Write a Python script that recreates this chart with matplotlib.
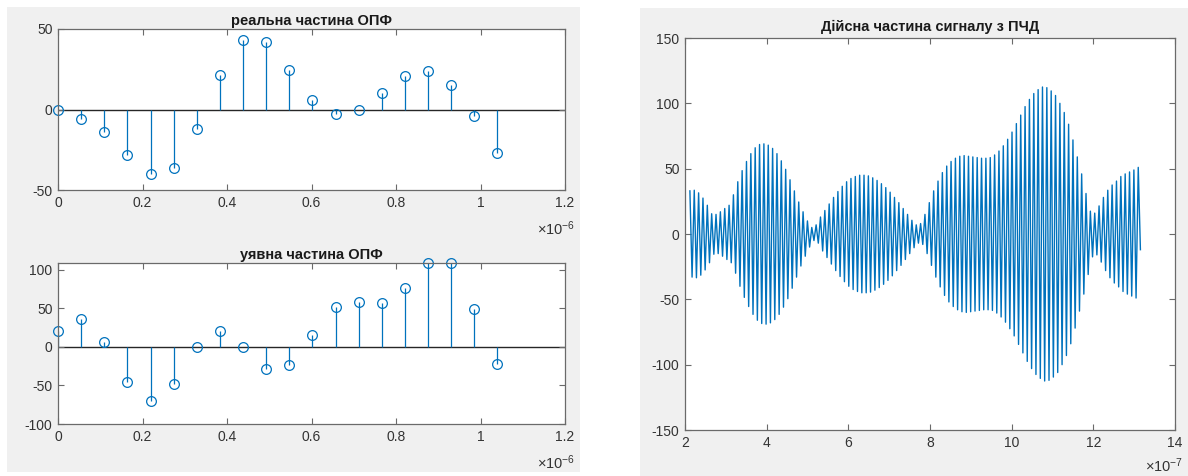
import numpy as np
import matplotlib
matplotlib.use("Agg")
import matplotlib.pyplot as plt
from matplotlib.patches import Rectangle
from matplotlib.ticker import FuncFormatter, MultipleLocator

plt.rcParams['font.family'] = ['Liberation Sans', 'DejaVu Sans']
plt.rcParams['mathtext.fontset'] = 'custom'
plt.rcParams['mathtext.rm'] = 'Liberation Sans'
plt.rcParams['mathtext.it'] = 'Liberation Sans:italic'
plt.rcParams['axes.unicode_minus'] = False

# ---- DFT (ОПФ) samples ----
bin_step = 5.4737e-8          # spacing of the frequency/time bins, s
re_part = [0, -6, -14, -28, -40, -36.5, -12, 21.5, 43, 42,
           24.5, 6, -3, 0, 10.5, 20.5, 24, 15.5, -4, -27]
im_part = [20.5, 36.5, 7, -45, -70.5, -47.5, -0.5, 21, 0, -29,
           -24, 16, 52, 59, 57, 77, 109, 108.5, 49.5, -21.5]

# ---- real part of the reconstructed signal ----
sig_t0 = 2.12e-7              # time of the first sample, s
sig_half_period = 5.33e-9     # carrier half period, s
# amplitude of each carrier period (positive peak, mirrored negative trough)
peak_amp = [33, 33.5, 31.5, 27.5, 22, 15.5, 15, 17, 19.5, 22,
            30, 40, 48.5, 55.5, 61.5, 66, 68.5, 69, 68, 65.5,
            61.5, 56, 49.5, 41.5, 33, 24.5, 17, 10, 5, 7,
            13, 18, 23, 28, 32.5, 36.5, 40, 42.5, 44, 45,
            45, 44.5, 43, 41, 38.5, 35.5, 32, 28, 24, 19.5,
            15, 10.5, 7, 8, 15, 24, 33, 40.5, 47, 52,
            55.5, 58, 59.5, 60, 59.5, 59, 58.5, 58, 58, 58.5,
            60.5, 63.5, 67.5, 72.5, 78, 84.5, 91, 97.5, 103, 107.5,
            110.5, 112.5, 112, 109.5, 106, 100, 93, 84, 72, 59,
            46, 31, 17.5, 16, 21.5, 28, 33.5, 37.5, 40.5, 44,
            46, 47.5, 49, 51]
sig_tail = -12.0              # last sample of the record

# ---- tick labels ----
spec_xticks = [0, 0.2, 0.4, 0.6, 0.8, 1.0, 1.2]      # ×1e-6 s
sig_xticks = [2, 4, 6, 8, 10, 12, 14]                 # ×1e-7 s

titles = ['реальна частина ОПФ', 'уявна частина ОПФ', 'Дійсна частина сигналу з ПЧД']

BLUE = '#0072BD'
AX_COL = '#6a6a6a'
TXT_COL = '#333333'

W, H = 1188, 476
fig = plt.figure(figsize=(W / 100, H / 100), dpi=100, facecolor='white')


def px_rect(x0, y0, x1, y1):
    """figure-fraction [left, bottom, width, height] from pixel box (y down)"""
    return [x0 / W, 1 - y1 / H, (x1 - x0) / W, (y1 - y0) / H]


# grey window backgrounds
for x0, y0, x1, y1 in [(7, 7, 580, 472), (640, 8, 1188, 476)]:
    l, b, w, h = px_rect(x0, y0, x1, y1)
    fig.patches.append(Rectangle((l, b), w, h, transform=fig.transFigure,
                                 facecolor='#f0f0f0', edgecolor='none', zorder=-10))


def style_axes(ax):
    for s in ax.spines.values():
        s.set_color(AX_COL)
        s.set_linewidth(0.9)
    ax.tick_params(direction='in', top=True, right=True, length=4, width=0.8,
                   color=AX_COL, labelcolor=TXT_COL, labelsize=10, pad=4)
    ax.set_facecolor('white')


def sci_label(ax, exp, dx, dy):
    ax.annotate(r'$\times10^{%d}$' % exp, xy=(1, 0), xycoords='axes fraction',
                xytext=(dx, dy), textcoords='offset points', ha='right', va='center',
                fontsize=10.5, color=TXT_COL)


spec_x = np.arange(len(re_part)) * bin_step

ax1 = fig.add_axes(px_rect(58, 29, 565, 190))
ax2 = fig.add_axes(px_rect(58, 263, 565, 424))

for ax, vals, title, ylim, ystep in [(ax1, re_part, titles[0], (-50, 50), 50),
                                     (ax2, im_part, titles[1], (-100, 109), 50)]:
    style_axes(ax)
    ax.axhline(0, color='#262626', lw=1.0, zorder=1)
    ml, sl, bl = ax.stem(spec_x, vals)
    bl.set_visible(False)
    sl.set_color(BLUE)
    sl.set_linewidth(0.9)
    ml.set_color(BLUE)
    ml.set_markerfacecolor('none')
    ml.set_markersize(7)
    ml.set_markeredgewidth(0.9)
    ml.set_clip_on(False)
    ax.set_xlim(0, 1.2e-6)
    ax.set_ylim(*ylim)
    ax.set_xticks([v * 1e-6 for v in spec_xticks])
    ax.xaxis.set_major_formatter(FuncFormatter(lambda v, p: '%g' % round(v / 1e-6, 6)))
    ax.yaxis.set_major_locator(MultipleLocator(ystep))
    ax.set_title(title, fontsize=10.5, fontweight='bold', color='#1a1a1a', pad=3)
    sci_label(ax, -6, 7, -28)

# reconstructed signal: alternating peaks and troughs
sig_y = []
for k, a in enumerate(peak_amp):
    sig_y.append(a)
    if k < len(peak_amp) - 1:
        sig_y.append(-a)
sig_y.append(sig_tail)
sig_t = sig_t0 + np.arange(len(sig_y)) * sig_half_period

ax3 = fig.add_axes(px_rect(685, 38, 1175, 430))
style_axes(ax3)
ax3.plot(sig_t, sig_y, color=BLUE, lw=1.0)
ax3.set_xlim(2e-7, 14e-7)
ax3.set_ylim(-150, 150)
ax3.set_xticks([v * 1e-7 for v in sig_xticks])
ax3.xaxis.set_major_formatter(FuncFormatter(lambda v, p: '%g' % round(v / 1e-7, 6)))
ax3.yaxis.set_major_locator(MultipleLocator(50))
ax3.set_title(titles[2], fontsize=10.5, fontweight='bold', color='#1a1a1a', pad=5)
sci_label(ax3, -7, 6, -26)

fig.savefig('out.png', dpi=100, facecolor='white')
